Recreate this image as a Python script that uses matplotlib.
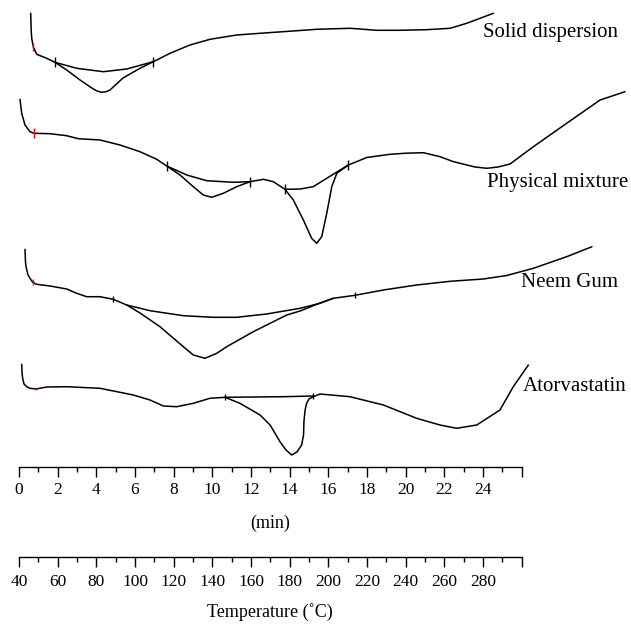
import matplotlib
matplotlib.use("Agg")
import matplotlib.pyplot as plt
from matplotlib.ticker import MultipleLocator, FixedLocator

plt.rcParams['font.family'] = ['Liberation Serif', 'DejaVu Serif']

# ---------------- data (time in min, signal in arbitrary units) ----------------
sd_t = [0.605, 0.63, 0.657, 0.74, 0.916, 1.433, 1.862, 2.468, 3.156, 3.844, 4.035, 4.278,
        4.5, 4.708, 5.38, 6.26, 6.948, 7.81, 8.846, 9.881, 11.262, 12.46, 13.66, 15.40,
        17.12, 17.64, 18.5, 19.71, 21.09, 22.30, 23.16, 24.54]
sd_y = [453.7, 437, 429, 420, 412.7, 408.7, 404.7, 397, 387, 378, 376, 374.7,
        375.3, 377, 389, 398.7, 405.3, 413.7, 422, 427.7, 432, 433.7, 435.3, 437.7,
        438.7, 438, 436.7, 436.7, 437.3, 438.7, 443.7, 453.7]
sd_base_t = [1.862, 2.985, 4.361, 5.572, 6.948]
sd_base_y = [404.7, 398.7, 395.3, 398, 405.3]
sd_tick_t = [1.862, 6.948]
sd_tick_y = [404.7, 405.3]
sd_red = (0.74, 420)

pm_t = [0.052, 0.14, 0.31, 0.569, 0.776, 1.604, 2.468, 3.068, 4.19, 5.225, 6.26, 7.124,
        7.641, 8.33, 9.017, 9.534, 9.969, 10.569, 11.262, 11.95, 12.64, 13.156, 13.76,
        14.19, 14.71, 15.14, 15.40, 15.66, 15.92, 16.18, 16.44, 17.04, 17.99, 19.19,
        20.02, 20.92, 21.78, 22.45, 23.16, 23.59, 24.2, 24.78, 25.4, 26.61, 28.33,
        30.06, 31.35]
pm_y = [367.7, 353.7, 342, 335.3, 333.7, 333.3, 331.3, 328.3, 327, 322, 315.3, 307.7,
        301, 292, 280.3, 272, 269.7, 273.7, 280.3, 285.3, 287.7, 285.3, 277.7,
        267, 247, 228.7, 223.7, 230.3, 253.7, 280.3, 293.7, 302, 309.5, 312.7,
        313.8, 314.3, 310.3, 305.5, 302, 300, 298.7, 300, 303, 320.3, 343.7,
        367, 375.3]
pm_base1_t = [7.641, 8.68, 9.71, 11.09, 11.95]
pm_base1_y = [301, 292, 286.3, 284.7, 285.3]
pm_base2_t = [13.76, 14.54, 15.22, 15.92, 16.61, 17.04]
pm_base2_y = [277.7, 278, 280.3, 288.7, 297, 302]
pm_tick_t = [7.641, 11.95, 13.76, 17.04]
pm_tick_y = [301, 285.3, 277.7, 302]
pm_red = (0.776, 333.7)

ng_t = [0.31, 0.336, 0.362, 0.466, 0.569, 0.709, 0.916, 1.604, 2.468, 2.985, 3.502, 4.19,
        4.878, 5.572, 6.26, 7.294, 8.5, 9.017, 9.622, 10.228, 10.745, 12.12, 13.85,
        14.54, 15.57, 16.26, 17.38, 18.85, 20.57, 22.3, 24.02, 25.23, 26.61, 28.33, 29.64]
ng_y = [217.7, 205, 200.3, 192, 188.7, 184.7, 182.7, 181, 178, 173.7, 170.3, 170.3,
        167.7, 162, 154, 140.3, 120.3, 112, 108.7, 113.7, 120.3, 135.3, 152,
        156, 164, 168.7, 171.7, 177, 182, 185.7, 188, 191.5, 198.7, 210.3, 220.3]
ng_base_t = [5.572, 6.777, 8.5, 10.05, 11.26, 12.81, 14.54, 15.57, 16.26]
ng_base_y = [162, 156.3, 151.3, 149.7, 149.7, 153, 158.7, 163.7, 168.7]
ng_tick_t = [4.878, 17.38]
ng_tick_y = [167.7, 171.7]
ng_red = (0.709, 184.7)

at_t = [0.14, 0.155, 0.19, 0.259, 0.398, 0.569, 0.879, 1.433, 2.468, 4.19, 5.913, 6.777,
        7.465, 8.158, 9.017, 9.881, 10.657, 11.43, 12.47, 12.99, 13.5, 13.81, 14.11,
        14.38, 14.62, 14.72, 14.74, 14.8, 14.88, 15.0, 15.22, 15.57, 17.12, 18.85,
        20.57, 21.78, 22.64, 23.68, 24.88, 25.57, 26.35]
at_y = [102.7, 95, 88.7, 83, 80.3, 78.7, 78, 80, 80.3, 78.7, 72, 67,
        61, 60.3, 63.7, 68.7, 69.7, 63.7, 52, 42, 25.3, 17, 12,
        15, 22, 32, 45.3, 57, 63.7, 68, 70.3, 73, 70.3, 62,
        48.7, 42, 38.7, 42, 57, 80.3, 102]
at_base_t = [10.657, 13.67, 15.22]
at_base_y = [69.7, 70.3, 71.0]
at_tick_t = [10.657, 15.22]
at_tick_y = [69.7, 71.0]
at_red = (0.879, 78)

curve_names = ["Solid dispersion", "Physical mixture", "Neem Gum", "Atorvastatin"]
name_pos_t = [24.0, 24.21, 25.97, 26.07]
name_pos_y = [430, 280, 180.3, 76.3]

time_ticks = list(range(0, 27, 2))
time_labels = [str(v) if v <= 24 else "" for v in time_ticks]
temp_ticks = list(range(40, 301, 20))
temp_labels = [str(v) if v <= 280 else "" for v in temp_ticks]

# ---------------- figure ----------------
W, H = 631, 626
fig = plt.figure(figsize=(W / 100, H / 100), dpi=100)
ax = fig.add_axes([19 / W, 1 - 467 / H, 502.6 / W, 467 / H])
ax.set_xlim(0, 26)
ax.set_ylim(0, 467)
for s in ['top', 'right', 'left']:
    ax.spines[s].set_visible(False)
ax.spines['bottom'].set_linewidth(1.0)
ax.set_yticks([])
ax.xaxis.set_major_locator(FixedLocator(time_ticks))
ax.set_xticklabels(time_labels)
ax.xaxis.set_minor_locator(MultipleLocator(1))
ax.tick_params(axis='x', which='major', direction='out', length=7, width=1.0, pad=3.5,
               labelsize=12.5)
ax.tick_params(axis='x', which='minor', direction='out', length=3.5, width=1.0)
ax.set_xlabel("(min)", fontsize=13, labelpad=12.5)

lw = 1.1
kw = dict(color='black', lw=lw, clip_on=False, solid_joinstyle='round',
          solid_capstyle='round')
ax.plot(sd_t, sd_y, **kw)
ax.plot(sd_base_t, sd_base_y, **kw)
ax.plot(pm_t, pm_y, **kw)
ax.plot(pm_base1_t, pm_base1_y, **kw)
ax.plot(pm_base2_t, pm_base2_y, **kw)
ax.plot(ng_t, ng_y, **kw)
ax.plot(ng_base_t, ng_base_y, **kw)
ax.plot(at_t, at_y, **kw)
ax.plot(at_base_t, at_base_y, **kw)

mk = dict(ls='none', marker='|', color='black', mew=1.0, clip_on=False)
ax.plot(sd_tick_t, sd_tick_y, ms=7, **mk)
ax.plot(pm_tick_t, pm_tick_y, ms=7, **mk)
ax.plot(ng_tick_t, ng_tick_y, ms=5, **mk)
ax.plot(at_tick_t, at_tick_y, ms=4.5, **mk)

rk = dict(ls='none', marker='|', color='red', mew=1.0, clip_on=False)
ax.plot([sd_red[0]], [sd_red[1]], ms=6, **rk)
ax.plot([pm_red[0]], [pm_red[1]], ms=7, **rk)
ax.plot([ng_red[0]], [ng_red[1]], ms=4, **rk)
ax.plot([at_red[0]], [at_red[1]], ms=2, **rk)

for name, tx, ty in zip(curve_names, name_pos_t, name_pos_y):
    ax.text(tx, ty, name, fontsize=15, ha='left', va='baseline', clip_on=False)

# temperature axis
ax2 = fig.add_axes([19 / W, 1 - 557 / H, 502.6 / W, 0.0001])
ax2.set_xlim(40, 300)
for s in ['top', 'right', 'left']:
    ax2.spines[s].set_visible(False)
ax2.spines['bottom'].set_linewidth(1.0)
ax2.set_yticks([])
ax2.patch.set_visible(False)
ax2.xaxis.set_major_locator(FixedLocator(temp_ticks))
ax2.set_xticklabels(temp_labels)
ax2.xaxis.set_minor_locator(MultipleLocator(10))
ax2.tick_params(axis='x', which='major', direction='out', length=7, width=1.0, pad=5.2,
                labelsize=12.5)
ax2.tick_params(axis='x', which='minor', direction='out', length=3.5, width=1.0)
ax2.set_xlabel("Temperature (˚C)", fontsize=13, labelpad=9.5)

fig.savefig("out.png", dpi=100)
